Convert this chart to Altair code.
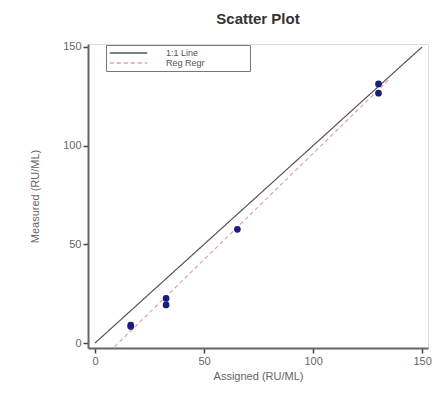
import altair as alt
import pandas as pd

# Data
assigned = [16.4, 16.4, 32.6, 32.6, 65.3, 130.0, 130.0]
measured = [9.1, 8.4, 22.6, 19.3, 57.6, 131.3, 126.6]
identity_x = [0, 150]
identity_y = [0, 150]
series_names = ["1:1 Line", "Reg Regr"]
series_colors = ["#555555", "#d4a6ae"]
x_ticks = [0, 50, 100, 150]
y_ticks = [0, 50, 100, 150]

pts = pd.DataFrame({"Assigned": assigned, "Measured": measured})
ident = pd.DataFrame({"Assigned": identity_x, "Measured": identity_y, "Series": ["1:1 Line"] * 2})

xs = alt.Scale(domain=[-3.2, 152.7], nice=False, zero=False)
ys = alt.Scale(domain=[-2.5, 151.5], nice=False, zero=False)

xax = alt.Axis(values=x_ticks, title="Assigned (RU/ML)", grid=False, tickSize=5,
               domainColor="#666", domainWidth=2, tickColor="#444", tickWidth=1.5,
               labelColor="#666", titleColor="#666", labelFontSize=11, titleFontSize=11,
               titleFontWeight="normal", labelPadding=2, titlePadding=4, labelFont="Liberation Sans",
               titleFont="Liberation Sans")
yax = alt.Axis(values=y_ticks, title="Measured (RU/ML)", grid=False, tickSize=5,
               domainColor="#666", domainWidth=2, tickColor="#444", tickWidth=1.5,
               labelColor="#666", titleColor="#666", labelFontSize=11, titleFontSize=11,
               titleFontWeight="normal", labelPadding=2, titlePadding=22, labelFont="Liberation Sans",
               titleFont="Liberation Sans")

color = alt.Color("Series:N", scale=alt.Scale(domain=series_names, range=series_colors),
                  legend=alt.Legend(title=None, orient="none", legendX=18, legendY=1,
                                    symbolType="stroke", symbolSize=1400, symbolStrokeWidth=1.3,
                                    labelFontSize=9, labelColor="#555", labelFont="Liberation Sans",
                                    strokeColor="#777", padding=3, rowPadding=0, clipHeight=10,
                                    labelOffset=18, symbolOffset=0, fillColor="white",
                                    labelLimit=200,
                                    labelExpr="datum.label + '\u2800\u2800\u2800\u2800\u2800\u2800'"))
dash = alt.StrokeDash("Series:N", scale=alt.Scale(domain=series_names, range=[[1, 0], [4, 3]]),
                      legend=None)

ident_line = alt.Chart(ident).mark_line(strokeWidth=1.2).encode(
    x=alt.X("Assigned:Q", scale=xs, axis=xax),
    y=alt.Y("Measured:Q", scale=ys, axis=yax),
    color=color, strokeDash=dash)

reg_line = alt.Chart(pts).transform_regression(
    "Assigned", "Measured", extent=[9, 135]
).transform_calculate(Series="'Reg Regr'").mark_line(strokeWidth=1.2).encode(
    x=alt.X("Assigned:Q", scale=xs),
    y=alt.Y("Measured:Q", scale=ys),
    color=color, strokeDash=dash)

points = alt.Chart(pts).mark_circle(size=45, color="#1c1c7a", opacity=1).encode(
    x=alt.X("Assigned:Q", scale=xs),
    y=alt.Y("Measured:Q", scale=ys))

chart = alt.layer(ident_line, reg_line, points).properties(
    width=340, height=304,
    title=alt.TitleParams("Scatter Plot", fontSize=15, font="Liberation Sans",
                          fontWeight="bold", color="#333", anchor="middle", offset=14),
    autosize=alt.AutoSizeParams(type="none"),
    padding={"left": 80, "top": 36, "right": 5, "bottom": 36},
).configure_view(stroke="#777", strokeWidth=2).configure(background="white")

chart.save("out.html", embed_options={"renderer": "svg", "actions": False})
